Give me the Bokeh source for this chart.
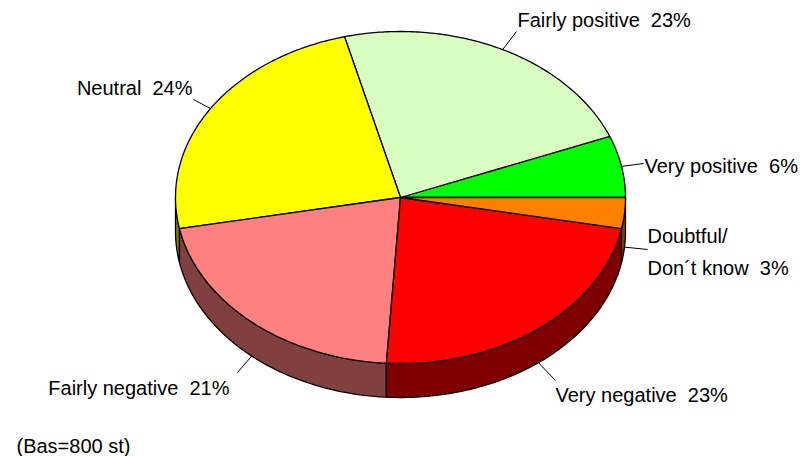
import numpy as np
from bokeh.plotting import figure
from bokeh.models import Range1d
from bokeh.core.properties import value
from bokeh.embed import file_html
from bokeh.resources import INLINE

# ---- data ----
categories = ["Very positive", "Fairly positive", "Neutral", "Fairly negative", "Very negative", "Doubtful/\nDon\u00b4t know"]
percent = [6, 23, 24, 21, 23, 3]
top_colors = ["#00FF00", "#D9FFC0", "#FFFF00", "#FF8080", "#FF0000", "#FF8000"]
side_colors = ["#008000", "#6C8060", "#808000", "#804040", "#800000", "#804000"]
note = "(Bas=800 st)"

# ---- layout ----
W, H = 803, 456
CX, CY, RX, RY, DEPTH = 400, 197, 225, 166, 34
# label anchors (x, baseline y, align) and leader-line end points
label_pos = [(644, 165, "left"), (517, 19, "left"), (192, 87, "right"),
             (229, 387, "right"), (555, 394, "left"), (647, 235, "left")]
leader_end = [(643, 163), (516, 31), (193, 99), (237, 372), (555, 380), (647, 249)]
FONT = "Liberation Sans"
FS = "20px"
GAP = "\u00a0 "

p = figure(width=W, height=H, output_backend="svg", toolbar_location=None,
           x_range=Range1d(0, W), y_range=Range1d(H, 0), min_border=0)
p.axis.visible = False
p.grid.visible = False
p.outline_line_color = None
p.background_fill_color = "white"


def ex(a):
    return CX + RX * np.cos(np.radians(a))


def ey(a):
    return CY - RY * np.sin(np.radians(a))


total = float(sum(percent))
starts, ends = [], []
acc = 0.0
for v in percent:
    starts.append(acc / total * 360.0)
    acc += v
    ends.append(acc / total * 360.0)

# side walls (front half: 180..360 degrees)
sx, sy, sc = [], [], []
for a1, a2, c in zip(starts, ends, side_colors):
    lo, hi = max(a1, 180.0), min(a2, 360.0)
    if hi <= lo:
        continue
    t = np.linspace(lo, hi, 80)
    xs = list(ex(t)) + list(ex(t[::-1]))
    ys = list(ey(t)) + list(ey(t[::-1]) + DEPTH)
    sx.append(xs)
    sy.append(ys)
    sc.append(c)
p.patches(sx, sy, fill_color=sc, line_color="black", line_width=1.3)

# top faces
tx, ty = [], []
for a1, a2 in zip(starts, ends):
    t = np.linspace(a1, a2, 120)
    tx.append([CX] + list(ex(t)))
    ty.append([CY] + list(ey(t)))
p.patches(tx, ty, fill_color=top_colors, line_color="black", line_width=1.3)

# leader lines
x0s, y0s, x1s, y1s = [], [], [], []
for a1, a2, (x1, y1) in zip(starts, ends, leader_end):
    m = (a1 + a2) / 2.0
    x0 = ex(m)
    y0 = ey(m) + (DEPTH if 180 < m < 360 else 0)
    x0s.append(x0); y0s.append(y0); x1s.append(x1); y1s.append(y1)
p.segment(x0s, y0s, x1s, y1s, line_color="black", line_width=1)

# labels
for cat, v, (lx, ly, al) in zip(categories, percent, label_pos):
    lines = cat.split("\n")
    lines[-1] = lines[-1] + GAP + str(v) + "%"
    for i, ln in enumerate(lines):
        p.text([lx], [ly + i * 32], text=[ln], text_font=value(FONT), text_font_size=FS,
               text_align=al, text_baseline="alphabetic", text_color="black")

p.text([16], [445], text=[note], text_font=value(FONT), text_font_size=FS,
       text_align="left", text_baseline="alphabetic", text_color="black")

open("out.html", "w").write(file_html(p, INLINE))
